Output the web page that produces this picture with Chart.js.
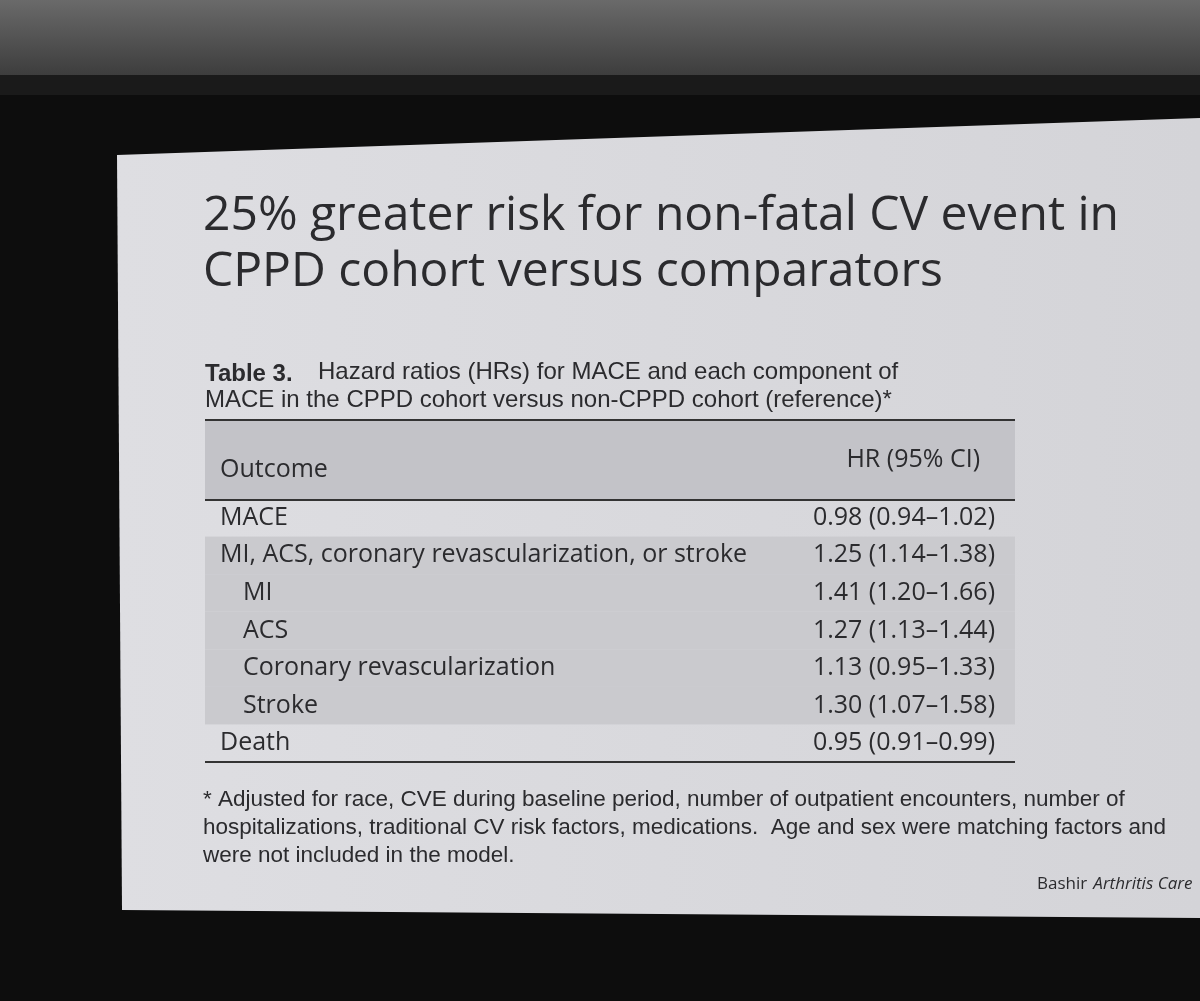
<!DOCTYPE html>
<html><head><meta charset="utf-8">
<script src="https://cdn.jsdelivr.net/npm/chart.js@4/dist/chart.umd.min.js"></script>
<style>html,body{margin:0;padding:0;background:#111;}#w{width:1200px;height:1001px;position:relative}</style>
</head><body><div id="w"><canvas id="c" width="1200" height="1001"></canvas></div>
<script>
const outcomes = ["MACE","MI, ACS, coronary revascularization, or stroke","MI","ACS","Coronary revascularization","Stroke","Death"];
const indent = [0,0,1,1,1,1,0];
const hr = [0.98,1.25,1.41,1.27,1.13,1.30,0.95];
const ciLow = [0.94,1.14,1.20,1.13,0.95,1.07,0.91];
const ciHigh = [1.02,1.38,1.66,1.44,1.33,1.58,0.99];
const shaded = [false,true,true,true,true,true,false];
const titleLines = ["25% greater risk for non-fatal CV event in","CPPD cohort versus comparators"];
const footLines = ["* Adjusted for race, CVE during baseline period, number of outpatient encounters, number of","hospitalizations, traditional CV risk factors, medications.  Age and sex were matching factors and","were not included in the model."];

const f2 = v => v.toFixed(2);
const slide = {
  id:'slide',
  beforeDraw(ch){
    const c = ch.ctx; c.save();
    c.fillStyle='#0d0d0d'; c.fillRect(0,0,1200,1001);
    let g=c.createLinearGradient(0,0,0,80); g.addColorStop(0,'#6a6a6a'); g.addColorStop(1,'#3a3a3a');
    c.fillStyle=g; c.fillRect(0,0,1200,75);
    c.fillStyle='#1a1a1a'; c.fillRect(0,75,1200,20);
    g=c.createLinearGradient(115,0,1200,0); g.addColorStop(0,'#dedee2'); g.addColorStop(1,'#d4d4d8');
    c.fillStyle=g;
    c.beginPath(); c.moveTo(117,155); c.lineTo(1200,118); c.lineTo(1200,918); c.lineTo(122,910); c.closePath(); c.fill();
    c.restore();
  },
  afterDatasetsDraw(ch){
    const c=ch.ctx, y=ch.scales.y; c.save();
    const L=205, R=1015, step=y.getPixelForValue(1)-y.getPixelForValue(0);
    c.fillStyle='#2b2b2e'; c.font='48px "Open Sans"'; c.textBaseline='middle';
    c.fillText(titleLines[0],203,216); c.fillText(titleLines[1],203,272);
    c.font='bold 24px "Liberation Sans"'; c.fillText('Table 3.',205,374);
    c.font='24px "Liberation Sans"'; c.fillText('Hazard ratios (HRs) for MACE and each component of',318,372);
    c.fillText('MACE in the CPPD cohort versus non-CPPD cohort (reference)*',205,400);
    c.fillStyle='#c3c3c8'; c.fillRect(L,420,R-L,80);
    c.fillStyle='#cacace';
    shaded.forEach((s,i)=>{ if(s){ const p=y.getPixelForValue(i); c.fillRect(L,p-step/2,R-L,step);} });
    c.strokeStyle='#333'; c.lineWidth=2;
    [420,500,y.getPixelForValue(6)+step/2].forEach(yy=>{c.beginPath();c.moveTo(L,yy);c.lineTo(R,yy);c.stroke();});
    c.fillStyle='#2b2b2e'; c.font='25px "Open Sans"';
    c.fillText('Outcome',220,470); c.textAlign='right'; c.fillText('HR (95% CI)',980,460);
    outcomes.forEach((o,i)=>{
      const p=y.getPixelForValue(i);
      c.textAlign='left'; c.fillText(o,220+indent[i]*23,p);
      c.textAlign='right'; c.fillText(f2(hr[i])+' ('+f2(ciLow[i])+'\u2013'+f2(ciHigh[i])+')',995,p);
    });
    c.textAlign='left'; c.font='22.5px "Liberation Sans"';
    footLines.forEach((t,i)=>c.fillText(t,203,800+i*28));
    c.font='17px "Open Sans"'; c.fillText('Bashir',1037,884);
    c.font='italic 17px "Open Sans"'; c.fillText('Arthritis Care',1037+c.measureText('Bashir ').width+4,884);
    c.restore();
  }
};
new Chart(document.getElementById('c'),{
  type:'line',
  data:{labels:outcomes,datasets:[{data:hr,pointRadius:0,borderWidth:0,showLine:false}]},
  options:{responsive:false,animation:false,indexAxis:'y',
    layout:{padding:{top:499,bottom:239,left:205,right:185}},
    plugins:{legend:{display:false},tooltip:{enabled:false}},
    scales:{y:{type:'category',display:false,offset:true},x:{type:'linear',display:false,min:0.8,max:1.8}}},
  plugins:[slide]
});
</script></body></html>
